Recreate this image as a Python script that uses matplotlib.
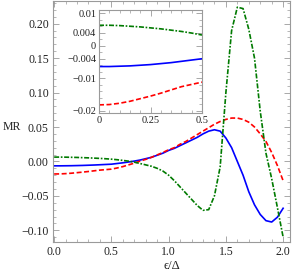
import numpy as np
import matplotlib.pyplot as plt
from matplotlib.ticker import MultipleLocator, FixedLocator

plt.rcParams['font.family'] = ['Liberation Serif', 'DejaVu Serif']

# energy grid (eps / Delta)
eps = np.round(np.arange(0, 2.0001, 0.05), 3)

mr_blue = [-0.0064, -0.0064, -0.0063, -0.0062, -0.0060, -0.0058, -0.0055, -0.0052,
           -0.0048, -0.0044, -0.0040, -0.0030, -0.0020, -0.0008, 0.0005, 0.002,
           0.004, 0.006, 0.009, 0.012, 0.016, 0.019, 0.023, 0.027, 0.031, 0.035,
           0.040, 0.044, 0.046, 0.044, 0.034, 0.020, 0.000, -0.020, -0.044, -0.063,
           -0.077, -0.086, -0.088, -0.081, -0.068]

mr_red = [-0.0182, -0.0181, -0.0177, -0.0171, -0.0163, -0.0155, -0.0146, -0.0136,
          -0.0126, -0.0119, -0.0112, -0.0095, -0.0075, -0.0050, -0.0025, 0.0005,
          0.003, 0.006, 0.0095, 0.013, 0.017, 0.020, 0.025, 0.029, 0.034, 0.039,
          0.044, 0.049, 0.054, 0.058, 0.061, 0.063, 0.063, 0.061, 0.057, 0.050,
          0.040, 0.029, 0.013, -0.006, -0.028]

mr_green = [0.0063, 0.0063, 0.0062, 0.0060, 0.0058, 0.0055, 0.0052, 0.0048,
            0.0044, 0.0039, 0.0033, 0.0025, 0.0015, 0.0004, -0.001, -0.003,
            -0.005, -0.007, -0.010, -0.014, -0.020, -0.028, -0.037, -0.046, -0.055,
            -0.064, -0.071, -0.070, -0.050, -0.008, 0.100, 0.190, 0.224, 0.222,
            0.192, 0.150, 0.073, 0.012, -0.025, -0.067, -0.110]

main_yticks = [-0.10, -0.05, 0.00, 0.05, 0.10, 0.15, 0.20]
main_xticks = [0.0, 0.5, 1.0, 1.5, 2.0]
inset_yticks = [0.01, 0.004, 0, -0.004, -0.01, -0.02]
inset_ylabels = ['0.01', '0.004', '0', '\u22120.004', '\u22120.01', '\u22120.02']
inset_xticks = [0, 0.25, 0.5]
inset_xlabels = ['0', '0.25', '0.5']

frame_col = '#9a9a9a'
styles = [dict(color='#0000ff', lw=1.2, ls='-'),
          dict(color='#ff0000', lw=1.2, ls=(0, (3, 1.5))),
          dict(color='#007a00', lw=1.2, ls=(0, (3, 1, 1, 1)))]
series = [mr_blue, mr_red, mr_green]


def frame(ax, size):
    for s in ax.spines.values():
        s.set_color(frame_col)
        s.set_linewidth(0.8)
    ax.tick_params(which='both', direction='in', top=True, right=True,
                   color=frame_col, labelcolor='#222222', labelsize=size, pad=3)
    ax.tick_params(which='major', length=4, width=0.6)
    ax.tick_params(which='minor', length=2, width=0.5)


fig = plt.figure(figsize=(2.94, 2.73), dpi=100)
ax = fig.add_axes([53 / 294, 31 / 273, 237 / 294, 241 / 273])
for y, st in zip(series, styles):
    ax.plot(eps, y, **st)
ax.set_xlim(-0.01, 2.06)
ax.set_ylim(-0.117, 0.233)
ax.set_xticks(main_xticks)
ax.set_xticklabels([f'{v:.1f}' for v in main_xticks])
ax.set_yticks(main_yticks)
ax.set_yticklabels([f'{v:.2f}'.replace('-', '\u2212') for v in main_yticks])
ax.xaxis.set_minor_locator(MultipleLocator(0.1))
ax.yaxis.set_minor_locator(MultipleLocator(0.01))
frame(ax, 8.5)
ax.set_xlabel('\u03f5/\u0394', fontsize=9, labelpad=1, color='#222222')
fig.text(12 / 294, 1 - 127 / 273, 'MR', fontsize=8.5, ha='center', va='center',
         color='#222222')

ins = fig.add_axes([99 / 294, 160 / 273, 103 / 294, 103 / 273])
mask = eps <= 0.5
for y, st in zip(series, styles):
    ins.plot(eps[mask], np.array(y)[mask], **st)
ins.set_xlim(0, 0.5)
ins.set_ylim(-0.0207, 0.011)
ins.yaxis.set_major_locator(FixedLocator(inset_yticks))
ins.set_yticklabels(inset_ylabels)
ins.set_xticks(inset_xticks)
ins.set_xticklabels(inset_xlabels)
ins.xaxis.set_minor_locator(MultipleLocator(0.05))
ins.yaxis.set_minor_locator(MultipleLocator(0.002))
frame(ins, 7.5)
ins.tick_params(pad=2)

fig.savefig('out.png', dpi=100)
